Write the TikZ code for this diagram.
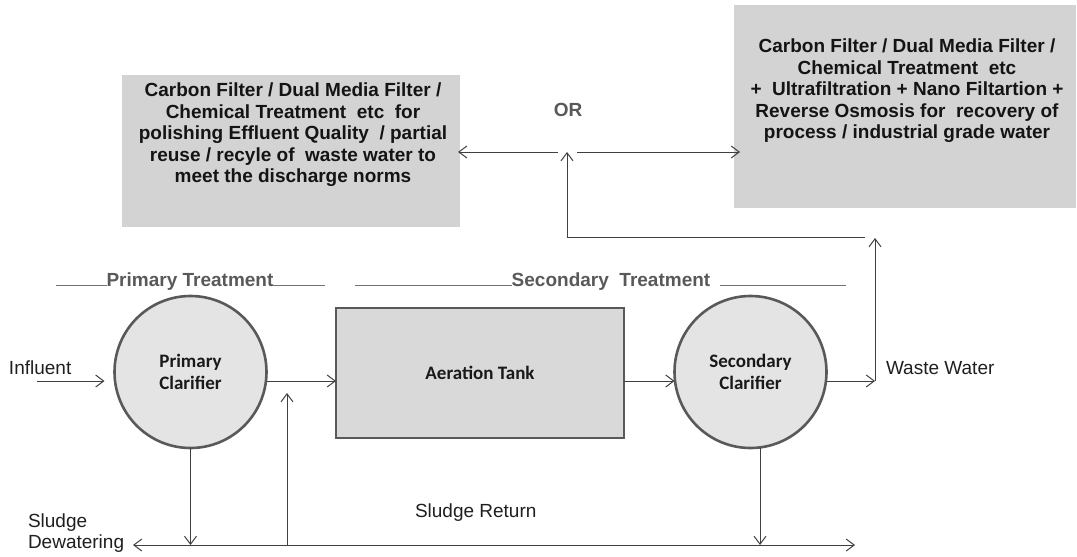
\documentclass[tikz,border=0pt]{standalone}
\usepackage{fontspec}
\setmainfont{Liberation Sans}
\newfontfamily\calfont{Carlito}
\usetikzlibrary{arrows.meta}

\definecolor{outline}{HTML}{595959}
\definecolor{linegray}{HTML}{3F3F3F}
\definecolor{boxgray}{HTML}{D3D3D3}
\definecolor{tankgray}{HTML}{D9D9D9}
\definecolor{clargray}{HTML}{E4E4E4}
\definecolor{labelgray}{HTML}{595959}

\begin{document}
\begin{tikzpicture}[x=1pt,y=-1pt,
  every node/.style={inner sep=0pt, outer sep=0pt},
  basefont/.style={font=\fontsize{19}{21.5}\selectfont},
  arr/.style={draw=linegray, line width=1pt, -{Straight Barb[length=8pt,width=12pt,line width=1pt]}},
  both/.style={draw=linegray, line width=1pt, {Straight Barb[length=8pt,width=12pt,line width=1pt]}-{Straight Barb[length=8pt,width=12pt,line width=1pt]}},
  clarifier/.style={circle, draw=outline, line width=2.6pt, fill=clargray, minimum size=152pt,
                    font=\calfont\bfseries\fontsize{19}{22.5}\selectfont, align=center, text=black!90},
  tank/.style={rectangle, draw=outline, line width=2.6pt, fill=tankgray, minimum width=288pt, minimum height=130pt,
               font=\calfont\bfseries\fontsize{19}{22}\selectfont, text=black!90},
  filterbox/.style={rectangle, fill=boxgray},
  boxtext/.style={basefont, font=\bfseries\fontsize{19}{21.5}\selectfont, align=center, text=black!92},
  stage/.style={font=\bfseries\fontsize{19}{21}\selectfont, text=labelgray},
  stageline/.style={draw=labelgray!85, line width=1pt},
  plain/.style={font=\fontsize{19}{21.5}\selectfont, text=black!88, align=left}
]
\useasboundingbox (0,0) rectangle (1077,557);

% --- tertiary treatment options ---
\node[filterbox, minimum width=338pt, minimum height=152pt] (lb) at (291,151) {};
\node[boxtext] (lbt) at (293,135) {Carbon Filter / Dual Media Filter /\\
  Chemical Treatment~ etc~ for\\
  polishing Effluent Quality~ / partial\\
  reuse / recyle of~ waste water to\\
  meet the discharge norms};

\node[filterbox, minimum width=342pt, minimum height=203pt] (rb) at (905,106.5) {};
\node[boxtext] (rbt) at (907,91) {Carbon Filter / Dual Media Filter /\\
  Chemical Treatment~ etc\\
  +~ Ultrafiltration + Nano Filtartion +\\
  Reverse Osmosis for~ recovery of\\
  process / industrial grade water};

\node[font=\bfseries\fontsize{19}{21}\selectfont, text=labelgray] (or) at (568,110) {OR};

% --- stage headings ---
\node[stage] (pt) at (190,282) {Primary Treatment};
\node[stage] (st) at (611,282) {Secondary~ Treatment};
\draw[stageline] (56,285) -- (pt.west |- 0,285);
\draw[stageline] (pt.east |- 0,285) -- (325,285);
\draw[stageline] (355,285) -- (st.west |- 0,285);
\draw[stageline] ([xshift=10pt]st.east |- 0,285) -- (846,285);

% --- process units ---
\node[clarifier] (pc) at (190.5,372) {Primary\\Clarifier};
\node[tank] (at) at (480,373) {Aeration Tank};
\node[clarifier] (sc) at (750.5,372) {Secondary\\Clarifier};

% --- labels ---
\node[plain, anchor=west] (infl) at (9,368) {Influent};
\node[plain, anchor=west] (ww) at (886,368) {Waste Water};
\node[plain, anchor=west] (sdw) at (28,533) {Sludge\\Dewatering};
\node[plain, anchor=west] (sr) at (415,513) {Sludge Return};

% --- junction points ---
\coordinate (flow) at (0,381);
\coordinate (inS) at (37,381);
\coordinate (wwc) at (875,381);
\coordinate (wtop) at (875,238);
\coordinate (jr) at (865,237);
\coordinate (split) at (567,237);
\coordinate (splitTop) at (567,152);
\coordinate (orL) at (558,152);
\coordinate (orR) at (577,152);
\coordinate (sdL) at (133,545);
\coordinate (sdR) at (855,545);
\coordinate (retB) at (287,545);
\coordinate (retT) at (287,393);
\coordinate (scOut) at (760,0);

% --- main flow ---
\draw[arr, shorten >=10pt] (inS) -- (pc.west |- flow);
\draw[arr] (pc.east |- flow) -- (at.west |- flow);
\draw[arr] (at.east |- flow) -- (sc.west |- flow);
\draw[arr] (sc.east |- flow) -- (wwc);
\draw[arr] (wwc) -- (wtop);
\draw[arr] (jr) -- (split) -- (splitTop);
\draw[arr, shorten >=-2pt] (orL) -- (lb.east |- orL);
\draw[arr, shorten >=-6pt] (orR) -- (rb.west |- orR);

% --- sludge lines ---
\draw[both] (sdL) -- (sdR);
\draw[arr] (pc.south) -- (pc.south |- sdL);
\draw[arr] (sc.south -| scOut) -- (scOut |- sdR);
\draw[arr] (retB) -- (retT);
\end{tikzpicture}
\end{document}
